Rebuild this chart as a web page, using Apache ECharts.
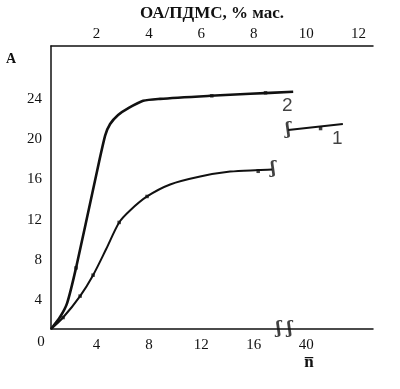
<!DOCTYPE html>
<html><head><meta charset="utf-8">
<script src="https://cdn.jsdelivr.net/npm/echarts@6/dist/echarts.min.js"></script>
<style>html,body{margin:0;padding:0;background:#fff}#c{width:400px;height:389px}</style>
</head><body><div id="c"></div>
<script>
// tick labels
const topTickValues = [2, 4, 6, 8, 10, 12];
const bottomTickValues = [4, 8, 12, 16, 20];
const bottomTickLabels = ['4', '8', '12', '16', '40'];
const yTickValues = [4, 8, 12, 16, 20, 24];

// curve 2 (upper)
const curve2N = [0.53, 1.22, 1.76, 2.44, 3.89, 4.66, 5.04, 5.65, 6.34, 7.56, 8.85, 12.67, 15.73, 19.01];
const curve2A = [1.13, 2.32, 3.7, 7.2, 15.88, 20.34, 21.5, 22.4, 23.0, 23.8, 24.0, 24.3, 24.5, 24.7];
// curve 1 (lower), before the break
const curve1N = [0.53, 1.45, 2.75, 3.74, 4.75, 5.73, 6.56, 7.86, 9.62, 11.91, 14.2, 16.34, 17.4];
const curve1A = [1.13, 2.27, 4.4, 6.48, 9.1, 11.72, 12.91, 14.3, 15.49, 16.28, 16.77, 16.92, 16.97];
// curve 1 after the break
const curve1bN = [18.63, 22.8];
const curve1bA = [20.9, 21.5];
// experimental point markers
const markN = [2.44, 12.8, 16.9, 1.45, 2.75, 3.74, 5.73, 7.86, 16.34, 21.1];
const markA = [7.2, 24.3, 24.6, 2.27, 4.4, 6.48, 11.72, 14.3, 16.8, 21.05];
// curve numbers
const curveNames = ['2', '1'];
const curveNameN = [18.55, 22.37];
const curveNameA = [23.3, 20.0];
// break signs
const breakText = ['ʃ', 'ʃ', 'ʃ ʃ'];
const breakN = [17.48, 18.63, 18.32];
const breakA = [17.07, 20.93, 1.13];

const zip = (a, b) => a.map((v, i) => [v, b[i]]);
const serif = '"Liberation Serif", "DejaVu Serif", serif';
const ink = '#111';

const chart = echarts.init(document.getElementById('c'), null, {renderer: 'canvas'});
chart.setOption({
  animation: false,
  backgroundColor: '#fff',
  grid: {left: 51, right: 27, top: 45, bottom: 60},
  xAxis: [{
    type: 'value', position: 'bottom', min: 0.53, max: 25.1,
    axisLine: {show: true, onZero: false, lineStyle: {color: ink, width: 1.5}},
    axisTick: {show: false}, splitLine: {show: false},
    axisLabel: {
      customValues: bottomTickValues, margin: 9,
      fontFamily: serif, fontSize: 15, color: ink,
      formatter: v => bottomTickLabels[bottomTickValues.indexOf(v)] ?? ''
    }
  }, {
    type: 'value', position: 'top', min: 0.265, max: 12.55,
    name: 'ОА/ПДМС, % мас.', nameLocation: 'middle', nameGap: 24,
    nameTextStyle: {fontFamily: serif, fontSize: 17, fontWeight: 'bold', color: ink},
    axisLine: {show: true, onZero: false, lineStyle: {color: ink, width: 1.5}},
    axisTick: {show: false}, splitLine: {show: false},
    axisLabel: {customValues: topTickValues, margin: 4, fontFamily: serif, fontSize: 15, color: ink}
  }],
  yAxis: {
    type: 'value', min: 1.13, max: 29.25,
    axisLine: {show: true, onZero: false, lineStyle: {color: ink, width: 1.5}},
    axisTick: {show: false}, splitLine: {show: false},
    axisLabel: {customValues: yTickValues, margin: 9, fontFamily: serif, fontSize: 15, color: ink}
  },
  graphic: [
    {type: 'text', x: 41, y: 342, style: {text: '0', font: '15px ' + serif, fill: ink, align: 'center', verticalAlign: 'middle'}},
    {type: 'text', x: 11, y: 59, style: {text: 'A', font: 'bold 14px ' + serif, fill: ink, align: 'center', verticalAlign: 'middle'}},
    {type: 'text', x: 309, y: 363, style: {text: 'n\u0305', font: 'bold 17px ' + serif, fill: ink, align: 'center', verticalAlign: 'middle'}}
  ],
  series: [
    {type: 'line', data: zip(curve2N, curve2A), smooth: 0.25, showSymbol: false,
     lineStyle: {color: ink, width: 2.6}},
    {type: 'line', data: zip(curve1N, curve1A), smooth: 0.3, showSymbol: false,
     lineStyle: {color: ink, width: 2}},
    {type: 'line', data: zip(curve1bN, curve1bA), showSymbol: false,
     lineStyle: {color: ink, width: 2}},
    {type: 'scatter', data: zip(markN, markA), symbol: 'rect', symbolSize: 3.5,
     itemStyle: {color: ink}},
    {type: 'scatter', data: zip(curveNameN, curveNameA), symbolSize: 0,
     label: {show: true, position: 'inside', formatter: p => curveNames[p.dataIndex],
       fontFamily: '"Liberation Sans", Arial, sans-serif', fontSize: 19, color: ink}},
    {type: 'scatter', data: zip(breakN, breakA), symbolSize: 0, clip: false,
     label: {show: true, position: 'inside', formatter: p => breakText[p.dataIndex],
       fontFamily: '"DejaVu Serif", serif', fontSize: 16, fontWeight: 'bold', color: ink}}
  ]
});
</script></body></html>
